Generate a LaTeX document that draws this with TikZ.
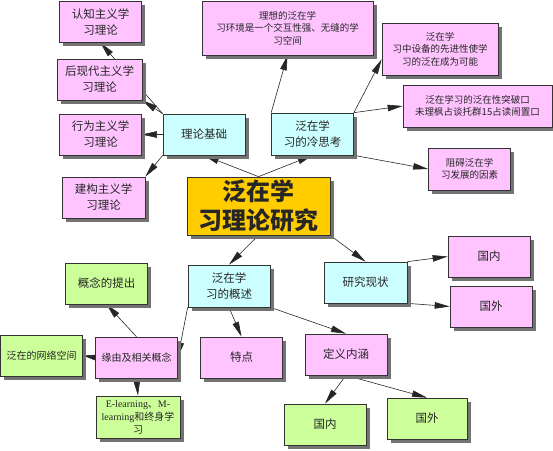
\documentclass[tikz,border=0pt]{standalone}
\usepackage{fontspec}
\setmainfont{Noto Sans CJK SC}
\newfontfamily\latinrm{Liberation Serif}
\usetikzlibrary{arrows.meta, shadows, backgrounds}
\definecolor{leafpink}{RGB}{255, 196, 255}
\definecolor{branchcyan}{RGB}{204, 255, 255}
\definecolor{leafgreen}{RGB}{204, 255, 153}
\definecolor{rootgold}{RGB}{255, 204, 0}
\definecolor{shadowgray}{RGB}{115, 115, 115}

\tikzset{
  mapbox/.style={draw=black!80, line width=0.7pt, minimum width=82pt,
                 minimum height=41pt, inner sep=2pt, align=center,
                 text=black!85, font=\fontsize{11.5}{16}\selectfont,
                 drop shadow={shadow xshift=3.5pt, shadow yshift=-3.5pt,
                              fill=shadowgray, opacity=1}},
  pinkbox/.style={mapbox, fill=leafpink},
  cyanbox/.style={mapbox, fill=branchcyan},
  greenbox/.style={mapbox, fill=leafgreen},
  rootbox/.style={mapbox, fill=rootgold, minimum width=143pt, minimum height=58pt,
                  font=\fontsize{24}{29}\selectfont\bfseries},
  smalltext/.style={font=\fontsize{9.5}{12.5}\selectfont},
  maplink/.style={-{Triangle[length=15pt,width=6.5pt]}, line width=0.6pt, black!85}
}

\begin{document}
\begin{tikzpicture}[x=1pt, y=-1pt]
  \useasboundingbox (0,0) rectangle (553,450);

  % centre
  \node[rootbox] (root) at (258.5,206) {泛在学\\习理论研究};

  % theory branch
  \node[cyanbox] (lilun) at (204,134.5) {理论基础};
  \node[pinkbox] (renzhi) at (100.5,22) {认知主义学\\习理论};
  \node[pinkbox, minimum width=85pt] (houxiandai) at (99.5,79.5) {后现代主义学\\习理论};
  \node[pinkbox] (xingwei) at (100.5,134.5) {行为主义学\\习理论};
  \node[pinkbox, minimum width=83pt] (jiangou) at (103.5,197.5) {建构主义学\\习理论};

  % reflection branch
  \node[cyanbox, minimum height=42pt] (lengsi) at (312.5,134) {泛在学\\习的冷思考};
  \node[pinkbox, smalltext, minimum width=171pt, minimum height=54pt] (lixiang)
       at (287.5,28) {理想的泛在学\\习环境是一个交互性强、无缝的学\\习空间};
  \node[pinkbox, smalltext, minimum width=116pt, minimum height=52pt] (shebei)
       at (440,49) {泛在学\\习中设备的先进性使学\\习的泛在成为可能};
  \node[pinkbox, smalltext, minimum width=149pt, minimum height=42pt] (tupo)
       at (477.5,106) {泛在学习的泛在性突破口\\未理枫占谈托群15占读闹置口};
  \node[pinkbox, smalltext, minimum height=42pt] (zuai) at (469.5,169) {阻碍泛在学\\习发展的因素};

  % state of research
  \node[cyanbox, minimum width=83pt] (xianzhuang) at (365.5,282.5) {研究现状};
  \node[pinkbox] (guonei1) at (489,256.5) {国内};
  \node[pinkbox] (guowai1) at (491,306.5) {国外};

  % overview branch
  \node[cyanbox, minimum height=42pt] (gaishu) at (229,286) {泛在学\\习的概述};
  \node[pinkbox] (tedian) at (241.5,357.5) {特点};
  \node[pinkbox] (dingyi) at (346,354.5) {定义内涵};
  \node[greenbox] (guonei2) at (325,424.5) {国内};
  \node[greenbox, minimum width=80pt] (guowai2) at (427,418.5) {国外};
  \node[pinkbox, font=\fontsize{10}{13}\selectfont] (yuanyou) at (136.5,357.5) {缘由及相关概念};
  \node[greenbox] (gainian) at (106.5,283.5) {概念的提出};
  \node[greenbox, font=\fontsize{10}{13}\selectfont] (wangluo) at (41.5,355.5) {泛在的网络空间};
  \node[greenbox, font=\fontsize{10}{13}\selectfont, minimum width=84pt, minimum height=42pt]
       (elearning) at (138,417) {{\latinrm E-learning}、{\latinrm M-}\\{\latinrm learning}和终身学\\习};

  \begin{scope}[on background layer]
    \draw[maplink] (root.north) -- (lilun.south);
    \draw[maplink] (root.north) -- (lengsi.south);
    \draw[maplink] (root.south) -- (gaishu.north);
    \draw[maplink] (root.south east) -- (xianzhuang.north);

    \draw[maplink] (lilun.north west) -- (renzhi.south);
    \draw[maplink] (lilun.north west) -- (houxiandai.south east);
    \draw[maplink] (lilun.west) -- (xingwei.east);
    \draw[maplink] (lilun.south west) -- (jiangou.north east);

    \draw[maplink] (lengsi.north west) -- (lixiang.south);
    \draw[maplink] (lengsi.north east) -- (shebei.190);
    \draw[maplink] (lengsi.north east) -- (tupo.west);
    \draw[maplink] (lengsi.south east) -- (zuai.west);

    \draw[maplink] (xianzhuang.north east) -- (guonei1.west);
    \draw[maplink] (xianzhuang.south east) -- (guowai1.west);

    \draw[maplink] (gaishu.south) -- (tedian.north);
    \draw[maplink] (gaishu.south east) -- (dingyi.north);
    \draw[maplink] (gaishu.south west) -- (yuanyou.east);
    \draw[maplink] (dingyi.south) -- (guonei2.north);
    \draw[maplink] (dingyi.south) -- (guowai2.north);

    \draw[maplink] (yuanyou.north) -- (gainian.south);
    \draw[maplink] (yuanyou.west) -- (wangluo.east);
    \draw[maplink] (yuanyou.south) -- (elearning.north);
  \end{scope}
\end{tikzpicture}
\end{document}
